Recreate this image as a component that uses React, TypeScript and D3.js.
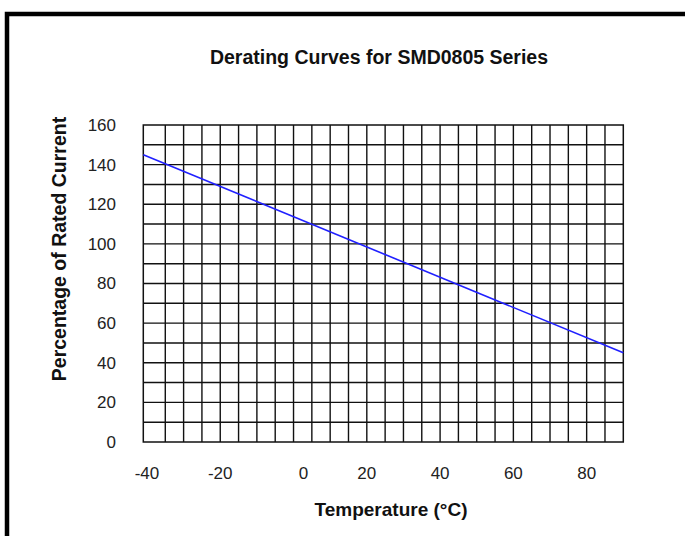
import React, { useEffect, useRef } from 'react';
import * as d3 from 'd3';

// derating line (left edge of the plot to the right edge)
const temps = [-41, 90];
const percents = [145, 45];

const xTicks = [-40, -20, 0, 20, 40, 60, 80];
const yTicks = [0, 20, 40, 60, 80, 100, 120, 140, 160];
const xGrid = [-35, -30, -25, -20, -15, -10, -5, 0, 5, 10, 15, 20, 25, 30, 35, 40, 45, 50, 55, 60, 65, 70, 75, 80, 85];
const yGrid = [10, 20, 30, 40, 50, 60, 70, 80, 90, 100, 110, 120, 130, 140, 150];

const title = 'Derating Curves for SMD0805 Series';
const xTitle = 'Temperature (°C)';
const yTitle = 'Percentage of Rated Current';

export default function App() {
  const svgRef = useRef<SVGSVGElement>(null);

  useEffect(() => {
    const svg = d3.select(svgRef.current);
    svg.selectAll('*').remove();

    const W = 685;
    const H = 536;
    const font = '"Liberation Sans", Arial, Helvetica, sans-serif';

    svg.attr('width', W).attr('height', H);

    // thick frame, runs off the right and bottom edges
    svg.append('rect')
      .attr('x', 7)
      .attr('y', 14)
      .attr('width', W + 20)
      .attr('height', H + 20)
      .attr('fill', 'white')
      .attr('stroke', '#000')
      .attr('stroke-width', 4.5);

    const x = d3.scaleLinear().domain([-41, 90]).range([143.3, 623.3]);
    const y = d3.scaleLinear().domain([0, 160]).range([442, 125]);

    const g = svg.append('g');

    // grid
    g.selectAll('line.vx')
      .data(xGrid)
      .enter()
      .append('line')
      .attr('x1', d => x(d))
      .attr('x2', d => x(d))
      .attr('y1', y(0))
      .attr('y2', y(160))
      .attr('stroke', '#111')
      .attr('stroke-width', 1.4);

    g.selectAll('line.hy')
      .data(yGrid)
      .enter()
      .append('line')
      .attr('x1', x(-41))
      .attr('x2', x(90))
      .attr('y1', d => y(d))
      .attr('y2', d => y(d))
      .attr('stroke', '#111')
      .attr('stroke-width', 1.4);

    g.append('rect')
      .attr('x', x(-41))
      .attr('y', y(160))
      .attr('width', x(90) - x(-41))
      .attr('height', y(0) - y(160))
      .attr('fill', 'none')
      .attr('stroke', '#111')
      .attr('stroke-width', 1.5);

    // derating curve
    const line = d3.line<number>()
      .x((_, i) => x(temps[i]))
      .y(d => y(d));

    g.append('path')
      .datum(percents)
      .attr('d', line)
      .attr('fill', 'none')
      .attr('stroke', '#2020ff')
      .attr('stroke-width', 1.6);

    // tick labels
    g.selectAll('text.xt')
      .data(xTicks)
      .enter()
      .append('text')
      .attr('x', d => x(d) + (d === 0 ? 10 : 0))
      .attr('y', 479)
      .attr('text-anchor', 'middle')
      .attr('font-family', font)
      .attr('font-size', 17)
      .attr('fill', '#222')
      .text(d => String(d));

    g.selectAll('text.yt')
      .data(yTicks)
      .enter()
      .append('text')
      .attr('x', 116)
      .attr('y', d => y(d))
      .attr('dy', '0.35em')
      .attr('text-anchor', 'end')
      .attr('font-family', font)
      .attr('font-size', 17)
      .attr('fill', '#222')
      .text(d => String(d));

    // titles
    svg.append('text')
      .attr('x', 379)
      .attr('y', 64)
      .attr('text-anchor', 'middle')
      .attr('font-family', font)
      .attr('font-weight', 'bold')
      .attr('font-size', 19.5)
      .attr('fill', '#111')
      .text(title);

    svg.append('text')
      .attr('x', 391)
      .attr('y', 516)
      .attr('text-anchor', 'middle')
      .attr('font-family', font)
      .attr('font-weight', 'bold')
      .attr('font-size', 19)
      .attr('fill', '#111')
      .text(xTitle);

    svg.append('text')
      .attr('transform', `translate(66, 249) rotate(-90)`)
      .attr('text-anchor', 'middle')
      .attr('font-family', font)
      .attr('font-weight', 'bold')
      .attr('font-size', 19.5)
      .attr('fill', '#111')
      .text(yTitle);
  }, []);

  return (
    <div style={{ position: 'absolute', left: 0, top: 0 }}>
      <svg ref={svgRef}></svg>
    </div>
  );
}
